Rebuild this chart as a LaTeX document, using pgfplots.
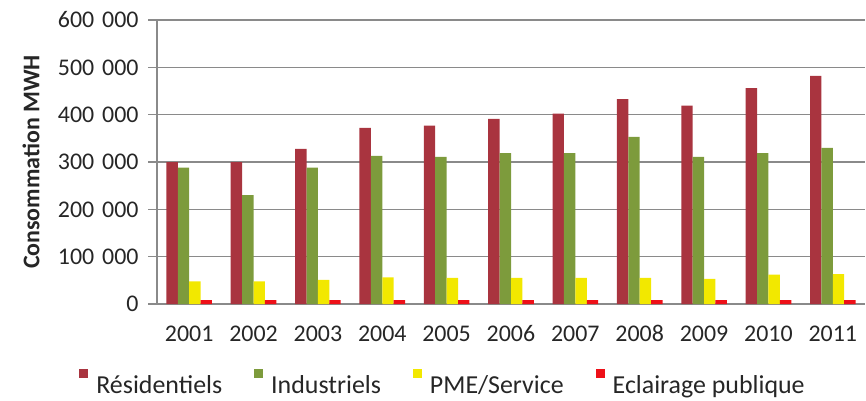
\documentclass[border=0pt]{standalone}
\usepackage{pgfplots}
\pgfplotsset{compat=1.18}
\usepackage{fontspec}
\setmainfont{Carlito}
\definecolor{cRes}{HTML}{A9343F}
\definecolor{cInd}{HTML}{7D9B3C}
\definecolor{cPME}{HTML}{F2E800}
\definecolor{cEcl}{HTML}{EE1018}
\definecolor{gridc}{HTML}{8A8A8A}
\begin{document}
\begin{tikzpicture}
\useasboundingbox (-157bp,-97bp) rectangle (709bp,304bp);
\begin{axis}[
  at={(0,0)}, anchor=origin,
  scale only axis,
  width=708bp, height=284bp,
  xmin=2000.5, xmax=2011.5,
  ymin=0, ymax=600000,
  ytick={0,100000,...,600000},
  xtick={2001,...,2011},
  ybar=0pt, bar width=11.4bp,
  axis x line*=bottom, axis y line*=left,
  axis line style={gridc, line width=1.2bp},
  ymajorgrids, grid style={gridc, line width=1.2bp},
  tick align=outside,
  major tick length=9bp,
  ytick style={gridc, line width=1.2bp},
  xtick style={draw=none},
  scaled y ticks=false,
  /pgf/number format/assume math mode=true,
  yticklabel style={/pgf/number format/fixed, /pgf/number format/1000 sep={\hspace{0.33em}}, xshift=-6bp},
  xticklabel style={/pgf/number format/1000 sep={}, yshift=-9bp},
  tick label style={font=\fontsize{24}{28}\selectfont, text=black!85},
  ylabel={\bfseries Consommation MWH},
  ylabel style={at={(axis description cs:-0.178,0.5)}, anchor=center, font=\fontsize{24}{28}\selectfont, text=black!85},
  legend columns=-1,
  legend style={at={(0.404,-0.278)}, anchor=center, draw=none, fill=none,
    font=\fontsize{26}{30}\selectfont, text=black!85,
    /tikz/every even column/.append style={column sep=30bp},
    /tikz/every odd column/.append style={column sep=6bp},
    inner sep=0pt},
  legend image code/.code={\fill[#1,draw=none] (0bp,7.5bp) rectangle (9bp,16.5bp);},
]
\addplot[fill=cRes, draw=none] coordinates {
(2001,300000) (2002,300000) (2003,328000) (2004,372000) (2005,377000) (2006,391000)
(2007,402000) (2008,433000) (2009,419000) (2010,456000) (2011,482000)};
\addplot[fill=cInd, draw=none] coordinates {
(2001,288000) (2002,230000) (2003,288000) (2004,313000) (2005,311000) (2006,319000)
(2007,319000) (2008,353000) (2009,311000) (2010,319000) (2011,330000)};
\addplot[fill=cPME, draw=none] coordinates {
(2001,48000) (2002,48000) (2003,51000) (2004,56000) (2005,55000) (2006,55000)
(2007,55000) (2008,55000) (2009,53000) (2010,62000) (2011,63000)};
\addplot[fill=cEcl, draw=none] coordinates {
(2001,8000) (2002,8000) (2003,8000) (2004,8000) (2005,8000) (2006,8000)
(2007,8000) (2008,8000) (2009,8000) (2010,8000) (2011,8000)};
\legend{Résidentiels, Industriels, PME/Service, Eclairage publique}
\end{axis}
\end{tikzpicture}
\end{document}
